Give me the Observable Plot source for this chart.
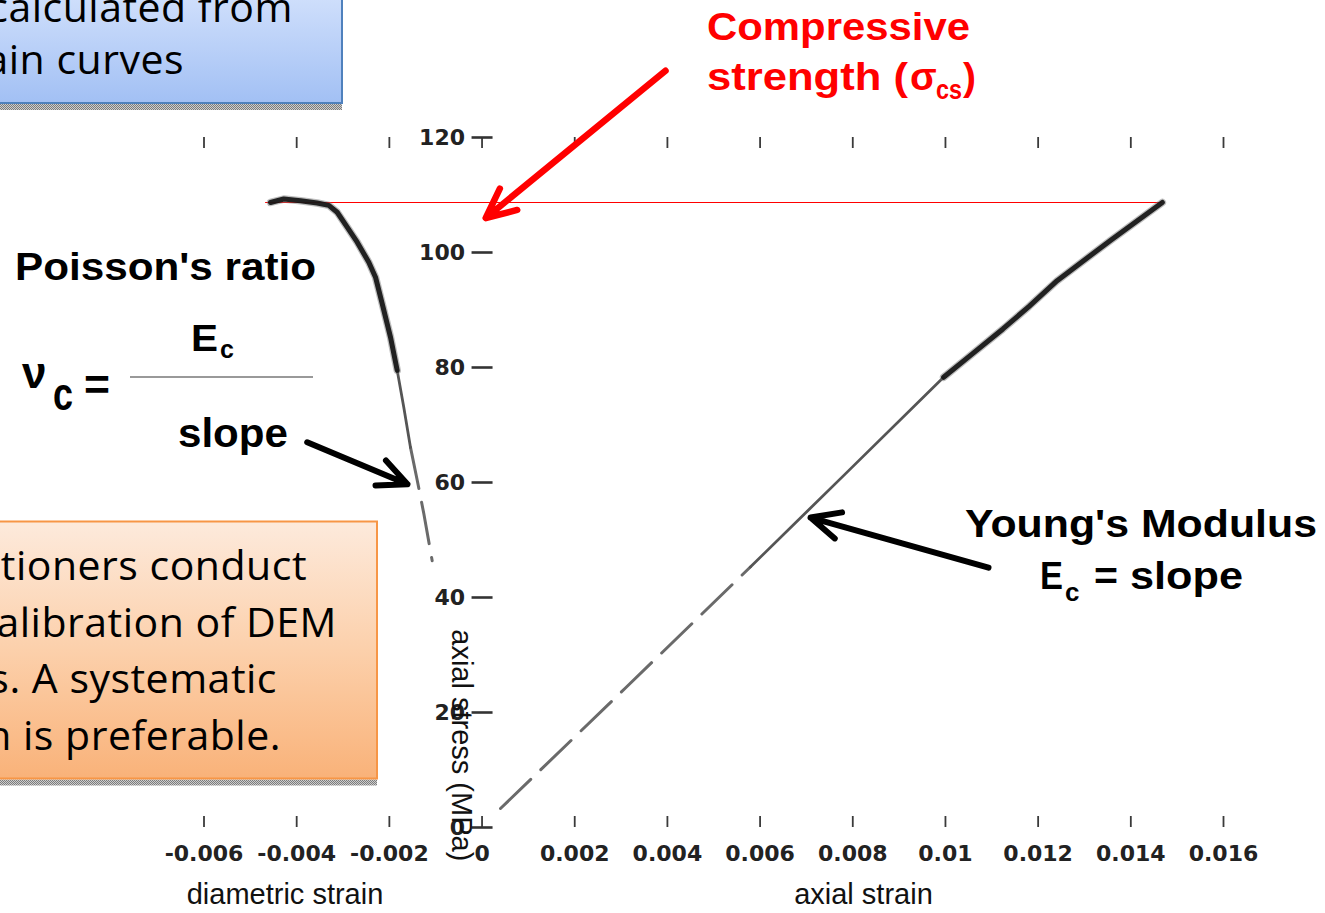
<!DOCTYPE html>
<html>
<head>
<meta charset="utf-8">
<script src="https://cdn.jsdelivr.net/npm/d3@7"></script>
<script src="https://cdn.jsdelivr.net/npm/@observablehq/plot@0.6"></script>
<style>
  html, body { margin: 0; padding: 0; background: #fff; overflow: hidden; }
  #stage { position: relative; width: 1325px; height: 913px; overflow: hidden; }
  #stage > svg { position: absolute; left: 0; top: 0; }
</style>
</head>
<body>
<div id="stage"></div>
<script>
// Axial branch of the stress–strain test (axial strain, axial stress in MPa)
const axialStrain = [0.000398, 0.0031, 0.00579, 0.00784, 0.00996, 0.0106, 0.01124, 0.0118, 0.01241, 0.01356, 0.01468];
const axialStress = [3.3, 24.3, 45.3, 61.5, 78.3, 82.5, 86.7, 90.6, 95.1, 102.1, 108.7];

// Diametric branch (diametric strain, axial stress in MPa)
const diametricStrain = [-0.004565, -0.004278, -0.003918, -0.003557, -0.003307, -0.003126, -0.00291, -0.002694, -0.002444, -0.002299, -0.002155, -0.001976, -0.001831, -0.001689, -0.001544, -0.001399, -0.001257, -0.001076];
const diametricStress = [108.7, 109.3, 109.0, 108.6, 108.2, 107.0, 104.4, 101.8, 98.3, 95.7, 91.1, 85.3, 79.5, 73.1, 66.1, 60.4, 54.6, 46.4];

// Peak stress reached by the specimen (MPa)
const compressiveStrength = 108.7;
const strengthLineFrom = -0.00467;
const strengthLineTo = 0.01468;

const xTicks = [-0.006, -0.004, -0.002, 0, 0.002, 0.004, 0.006, 0.008, 0.01, 0.012, 0.014, 0.016];
const xTickLabels = ["-0.006", "-0.004", "-0.002", "0", "0.002", "0.004", "0.006", "0.008", "0.01", "0.012", "0.014", "0.016"];
const yTicks = [0, 20, 40, 60, 80, 100, 120];
const yTickLabels = ["0", "20", "40", "60", "80", "100", "120"];

// Stress levels where the recorded traces change from sparse to dense sampling
const axialSparseBelow = 45.3, axialDenseAbove = 78.3;
const diamSparseBelow = 66.1, diamDenseAbove = 79.5;

const axial = axialStrain.map((s, i) => ({strain: s, stress: axialStress[i]}));
const diam = diametricStrain.map((s, i) => ({strain: s, stress: diametricStress[i]}));

const W = 1325, H = 913;
const margins = {marginLeft: 203.5, marginRight: 102, marginTop: 137, marginBottom: 86};
const frameH = H - margins.marginTop - margins.marginBottom;
const xLabelOf = new Map(xTicks.map((t, i) => [t, xTickLabels[i]]));
const tickFont = "'DejaVu Sans', Verdana, sans-serif";

const lineStyle = {
  sparse: {stroke: "#6a6a6a", strokeWidth: 3, strokeDasharray: "42,14"},
  mid: {stroke: "#555", strokeWidth: 2.8},
  halo: {stroke: "#6e6e6e", strokeWidth: 7.5, strokeOpacity: 0.45},
  dense: {stroke: "#141414", strokeWidth: 5, strokeOpacity: 0.92}
};

// One branch: sparse dashed samples, a thin continuous stretch, then the dense noisy trace
function branch(rows, lo, hi, style) {
  const dense = rows.filter(d => d.stress >= hi);
  return [
    Plot.line(rows.filter(d => d.stress <= lo), {x: "strain", y: "stress", ...style.sparse}),
    Plot.line(rows.filter(d => d.stress >= lo && d.stress <= hi), {x: "strain", y: "stress", ...style.mid}),
    Plot.line(dense, {x: "strain", y: "stress", ...style.halo, strokeLinejoin: "round"}),
    Plot.line(dense, {x: "strain", y: "stress", ...style.dense, strokeLinejoin: "round"})
  ];
}

// Pointer arrows in data coordinates (strain, stress)
const strengthPointer = [{x1: 0.003959, y1: 131.6, x2: 0.00008, y2: 106.0}];
const poissonPointer = [{x1: -0.003773, y1: 67.0, x2: -0.001609, y2: 59.7}];
const youngPointer = [{x1: 0.010929, y1: 45.2, x2: 0.007088, y2: 53.9}];

const chart = Plot.plot({
  width: W,
  height: H,
  ...margins,
  x: {domain: [-0.006, 0.016]},
  y: {domain: [0, 120], axis: null},
  style: {fontFamily: "'Liberation Sans', Arial, sans-serif", background: "transparent", overflow: "visible"},
  marks: [
    // inward ticks along the bottom and top edges
    Plot.tickX(xTicks, {x: d => d, insetTop: frameH - 11, stroke: "#3a3a3a", strokeWidth: 1.8}),
    Plot.tickX(xTicks, {x: d => d, insetBottom: frameH - 11, stroke: "#3a3a3a", strokeWidth: 1.8}),
    Plot.axisX({ticks: xTicks, tickFormat: d => xLabelOf.get(d), tickSize: 0, tickPadding: 18,
      fontFamily: tickFont, fontSize: 22, fontWeight: "bold", fill: "#222", label: null}),
    // stress axis drawn at zero strain
    Plot.ruleY(yTicks, {y: d => d, x1: 0, x2: 0, insetLeft: -10, insetRight: -11, stroke: "#333", strokeWidth: 2.6}),
    Plot.text(yTicks, {x: 0, y: d => d, text: (d, i) => yTickLabels[i], textAnchor: "end", dx: -17,
      fontFamily: tickFont, fontSize: 22, fontWeight: "bold", fill: "#222"}),
    Plot.text(["axial stress (MPa)"], {x: 0, y: 14.3, dx: -21, rotate: 90, fontSize: 29, fill: "#111"}),
    Plot.text(["diametric strain"], {x: -0.004252, frameAnchor: "bottom", dy: 76, fontSize: 29, fill: "#111"}),
    Plot.text(["axial strain"], {x: 0.008231, frameAnchor: "bottom", dy: 76, fontSize: 29, fill: "#111"}),
    // compressive strength level
    Plot.ruleY([compressiveStrength], {x1: strengthLineFrom, x2: strengthLineTo, stroke: "#ff0000", strokeWidth: 1.2}),
    ...branch(diam, diamSparseBelow, diamDenseAbove, lineStyle),
    ...branch(axial, axialSparseBelow, axialDenseAbove, lineStyle),
    Plot.arrow(strengthPointer, {x1: "x1", y1: "y1", x2: "x2", y2: "y2", stroke: "#ff0000", strokeWidth: 6.5, headAngle: 50, headLength: 7.5}),
    Plot.arrow(poissonPointer, {x1: "x1", y1: "y1", x2: "x2", y2: "y2", stroke: "#000", strokeWidth: 6, headAngle: 50, headLength: 8}),
    Plot.arrow(youngPointer, {x1: "x1", y1: "y1", x2: "x2", y2: "y2", stroke: "#000", strokeWidth: 6, headAngle: 50, headLength: 8})
  ]
});

const stage = document.getElementById("stage");
stage.appendChild(chart);

// Callout boxes and labels on top of the chart
const ov = d3.select(stage).append("svg").attr("width", W).attr("height", H);
const defs = ov.append("defs");
const pat = defs.append("pattern").attr("id", "shade").attr("width", 2).attr("height", 2).attr("patternUnits", "userSpaceOnUse");
pat.append("rect").attr("width", 2).attr("height", 2).attr("fill", "#cdcdcd");
pat.append("rect").attr("width", 1).attr("height", 1).attr("fill", "#7c7c7c");
pat.append("rect").attr("x", 1).attr("y", 1).attr("width", 1).attr("height", 1).attr("fill", "#7c7c7c");

function gradient(id, stops) {
  const g = defs.append("linearGradient").attr("id", id).attr("x1", 0).attr("y1", 0).attr("x2", 0).attr("y2", 1);
  stops.forEach(([o, c]) => g.append("stop").attr("offset", o).attr("stop-color", c));
}
gradient("blueFill", [[0, "#d8e5fd"], [1, "#a2c0f4"]]);
gradient("orangeFill", [[0, "#fdeadc"], [0.5, "#fcd0ab"], [1, "#f9b279"]]);

function box(x, y, w, h, fill, stroke) {
  ov.append("rect").attr("x", x).attr("y", y + h + 1).attr("width", w).attr("height", 6).attr("fill", "url(#shade)");
  ov.append("rect").attr("x", x).attr("y", y).attr("width", w).attr("height", h)
    .attr("fill", fill).attr("stroke", stroke).attr("stroke-width", 2);
}

function label(t, x, y, o = {}) {
  const el = ov.append("text").attr("x", x).attr("y", y).text(t)
    .attr("font-family", o.family || "'Liberation Sans', Arial, sans-serif")
    .attr("font-size", o.size || 38)
    .attr("font-weight", o.weight || "bold")
    .attr("fill", o.fill || "#000")
    .attr("text-anchor", o.anchor || "start");
  if (o.spacing) el.attr("letter-spacing", o.spacing);
  if (o.length) el.attr("textLength", o.length).attr("lengthAdjust", "spacingAndGlyphs");
  return el;
}

box(-20, -24, 362, 127, "url(#blueFill)", "#4f81bd");
const boxFont = {family: "'Open Sans', sans-serif", weight: "normal", size: 41, anchor: "end", spacing: 0.5};
label("Properties calculated from", 293, 22, boxFont);
label("stress-strain curves", 184, 74, boxFont);

box(-20, 521.5, 397, 257, "url(#orangeFill)", "#f79646");
label("Practitioners conduct", 307, 580, boxFont);
label("trial-and-error calibration of DEM", 337, 637, boxFont);
label("parameters. A systematic", 277, 693, boxFont);
label("calibration is preferable.", 281, 750, boxFont);

const red = {fill: "#ff0000", size: 39};
label("Compressive", 707, 40, {...red, length: 263});
label("strength (", 707, 90, {...red, length: 201});
label("σ", 910, 90, red);
label("cs", 936, 99, {...red, size: 27, length: 26});
label(")", 963, 90, red);

label("Poisson's ratio", 15, 280, {length: 301});
label("ν", 22, 388, {size: 44});
label("c", 53, 410, {size: 46, length: 20});
label("=", 84, 400, {size: 44, length: 26});
label("E", 191, 351, {size: 36, length: 27});
label("c", 220, 358, {size: 25});
ov.append("line").attr("x1", 130).attr("x2", 313).attr("y1", 377).attr("y2", 377).attr("stroke", "#777").attr("stroke-width", 1.5);
label("slope", 178, 447, {size: 40, length: 110});

label("Young's Modulus", 965, 537, {length: 352});
label("E", 1040, 589, {length: 23});
label("c", 1065, 601, {size: 26});
label("=", 1094, 589, {length: 24});
label("slope", 1130, 589, {length: 113});
</script>
</body>
</html>
